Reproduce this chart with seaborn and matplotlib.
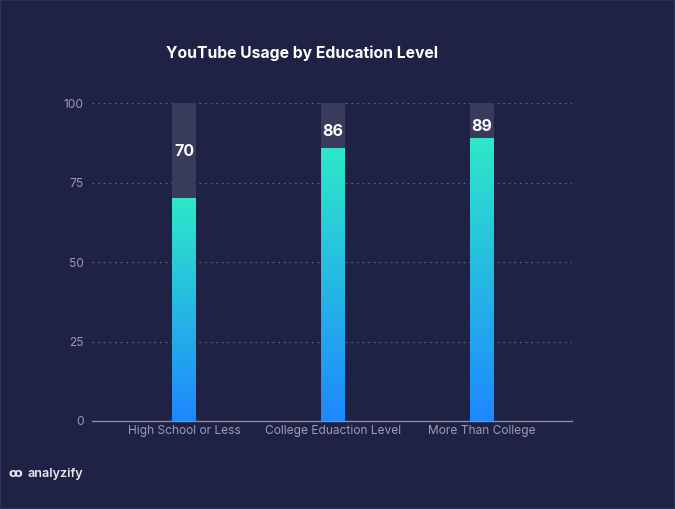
import numpy as np
import pandas as pd
import matplotlib
matplotlib.use("Agg")
import matplotlib.pyplot as plt
import seaborn as sns
from matplotlib.colors import LinearSegmentedColormap
from matplotlib.patches import Rectangle

# dados
categories = ["High School or Less", "College Eduaction Level", "More Than College"]
usage = [70, 86, 89]
max_value = [100, 100, 100]
y_ticks = [0, 25, 50, 75, 100]

df = pd.DataFrame({"category": categories, "usage": usage, "max": max_value})

bg = "#1f2244"
sns.set_theme(style="dark")
plt.rcParams["font.family"] = ["Inter", "DejaVu Sans"]

fig = plt.figure(figsize=(6.75, 5.09), dpi=100, facecolor=bg)
ax = fig.add_axes([0.1363, 0.1729, 0.7111, 0.6247])
ax.set_facecolor(bg)

# barras de fundo (ate 100)
sns.barplot(data=df, x="category", y="max", color="#383b5c", width=0.161,
            saturation=1, linewidth=0, ax=ax, zorder=2)
n_bg = len(ax.patches)
# barras de valor
sns.barplot(data=df, x="category", y="usage", color="#1e88ff", width=0.161,
            saturation=1, linewidth=0, ax=ax, zorder=3)

# gradiente nas barras
cmap = LinearSegmentedColormap.from_list("grad", ["#1e88ff", "#2ee8c9"])
grad = np.linspace(0, 1, 256).reshape(-1, 1)
for p, val in zip(ax.patches[n_bg:], usage):
    x0 = p.get_x()
    w = p.get_width()
    im = ax.imshow(grad, cmap=cmap, aspect="auto", origin="lower",
                   extent=[x0, x0 + w, 0, val], zorder=4)
    im.set_clip_path(p)
ax.set_xlim(-0.617, 2.604)
ax.set_ylim(0, 100)

# rotulos
label_y = [84.6, 91.2, 92.5]
for i, (val, ly) in enumerate(zip(usage, label_y)):
    ax.text(i, ly, str(val), ha="center", va="center", color="white",
            fontsize=11.5, fontweight="bold", zorder=6)

ax.set_yticks(y_ticks)
ax.yaxis.grid(True, linestyle=(0, (1.5, 3)), color="#5c5f82", linewidth=0.9)
ax.xaxis.grid(False)
ax.set_axisbelow(True)
ax.tick_params(axis="both", colors="#9a9cb3", labelsize=8.6, length=0, pad=6)
ax.tick_params(axis="x", pad=3)
ax.set_xlabel("")
ax.set_ylabel("")
for s in ["top", "right", "left"]:
    ax.spines[s].set_visible(False)
ax.spines["bottom"].set_color("#8a8ca3")
ax.spines["bottom"].set_linewidth(1)

fig.text(0.448, 0.896, "YouTube Usage by Education Level", ha="center",
         va="center", color="white", fontsize=11.3, fontweight="bold")
fig.text(0.013, 0.069, "ꝏ", color="#e8e9f0", fontsize=9, fontweight="bold",
         va="center", family=["DejaVu Sans"])
fig.text(0.04, 0.069, "analyzify", color="#e8e9f0", fontsize=9,
         fontweight="semibold", va="center")

# borda fina da figura
fig.patches.append(Rectangle((0, 0), 1, 1, transform=fig.transFigure,
                             fill=False, edgecolor="#33365a", linewidth=1.2))

fig.savefig("out.png", dpi=100, facecolor=bg)
